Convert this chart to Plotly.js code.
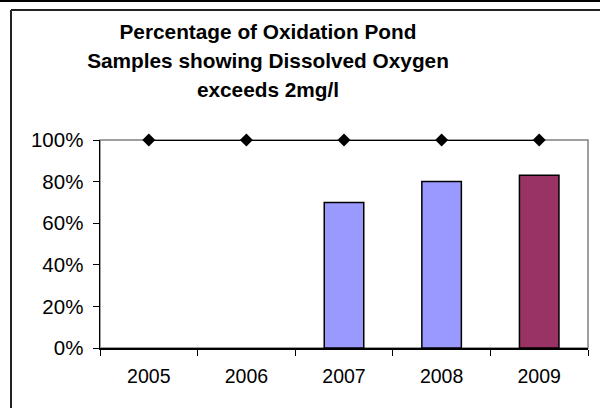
<!DOCTYPE html>
<html>
<head>
<meta charset="utf-8">
<script src="https://cdn.plot.ly/plotly-3.0.1.min.js"></script>
<style>
  html, body { margin: 0; padding: 0; background: #fff; }
  #chart { width: 600px; height: 408px; }
</style>
</head>
<body>
<div id="chart"></div>
<script>
// ---- data ----
const years = ['2005', '2006', '2007', '2008', '2009'];
const pctSamples = [null, null, 0.70, 0.80, 0.83];
const barColors = ['#9999FF', '#9999FF', '#9999FF', '#9999FF', '#993366'];
const targetLine = [1.0, 1.0, 1.0, 1.0, 1.0];
const yTickVals = [0, 0.2, 0.4, 0.6, 0.8, 1.0];
const yTickText = ['0%', '20%', '40%', '60%', '80%', '100%'];
const titleLines = ['Percentage of Oxidation Pond', 'Samples showing Dissolved Oxygen', 'exceeds 2mg/l'];

// ---- layout geometry ----
const W = 600, H = 408;
const M = { l: 100, r: 12, t: 140, b: 60 };
const pw = W - M.l - M.r, ph = H - M.t - M.b;
const px = x => (x - M.l) / pw;
const py = y => (H - M.b - y) / ph;

const font = 'Arial, "Liberation Sans", sans-serif';
const titleGlyph = 20.8;           // visible glyph size
const titleBase = 29.5 / 1.3;      // base size -> controls line spacing
const titleText = titleLines.map(s => '<span style="font-size:' + titleGlyph + 'px">' + s + '</span>').join('<br>');

const traces = [
  {
    type: 'bar',
    x: years,
    y: pctSamples,
    width: 0.405,
    marker: { color: barColors, line: { color: '#000', width: 1.5 } },
    hoverinfo: 'x+y',
    showlegend: false
  },
  {
    type: 'scatter',
    mode: 'lines+markers',
    x: years,
    y: targetLine,
    line: { color: '#000', width: 2 },
    marker: { symbol: 'diamond', size: 10, color: '#000' },
    cliponaxis: false,
    showlegend: false
  }
];

const layout = {
  width: W,
  height: H,
  margin: M,
  paper_bgcolor: '#fff',
  plot_bgcolor: '#fff',
  font: { family: font, color: '#000', size: 19.5 },
  title: {
    text: titleText,
    font: { family: font, size: titleBase, color: '#000', weight: 'bold' },
    x: 268 / W,
    xref: 'container',
    xanchor: 'center',
    y: 1 - 38.5 / H,
    yref: 'container',
    yanchor: 'middle'
  },
  xaxis: {
    type: 'category',
    range: [-0.5, 4.5],
    tickson: 'boundaries',
    ticks: 'outside',
    ticklen: 6,
    tickcolor: '#000',
    showline: true,
    linecolor: '#000',
    linewidth: 1.5,
    showgrid: false,
    zeroline: false,
    ticklabelstandoff: 10,
    tickfont: { family: font, size: 19.5, color: '#000' },
    fixedrange: true
  },
  yaxis: {
    range: [0, 1],
    tickvals: yTickVals,
    ticktext: yTickText,
    ticks: 'outside',
    ticklen: 6,
    tickcolor: '#000',
    showline: true,
    linecolor: '#000',
    linewidth: 1.5,
    showgrid: false,
    zeroline: false,
    ticklabelstandoff: 5,
    tickfont: { family: font, size: 20.5, color: '#000' },
    fixedrange: true
  },
  shapes: [
    // plot area gray border (top/right)
    { type: 'rect', xref: 'paper', yref: 'paper', x0: 0, x1: 1, y0: 0, y1: 1,
      line: { color: '#808080', width: 1.5 }, layer: 'below' },
    // chart outer frame
    { type: 'rect', xref: 'paper', yref: 'paper', x0: px(0), x1: px(600), y0: py(0), y1: py(2),
      fillcolor: '#000', line: { width: 0 } },
    { type: 'line', xref: 'paper', yref: 'paper', x0: px(11), x1: px(600), y0: py(10), y1: py(10),
      line: { color: '#222', width: 2 } },
    { type: 'line', xref: 'paper', yref: 'paper', x0: px(11), x1: px(11), y0: py(10), y1: py(408),
      line: { color: '#222', width: 2 } }
  ]
};

Plotly.newPlot('chart', traces, layout, { displayModeBar: false, staticPlot: true });
</script>
</body>
</html>
